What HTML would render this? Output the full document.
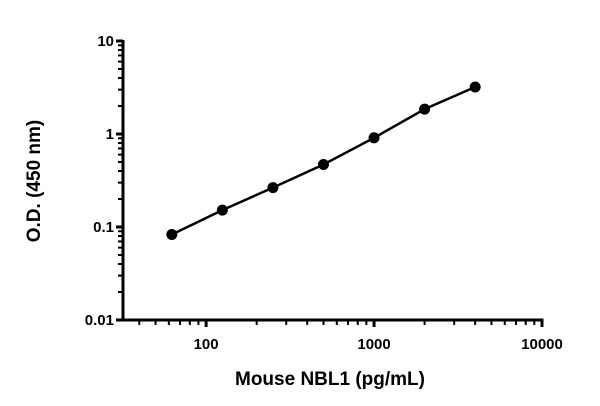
<!DOCTYPE html>
<html><head><meta charset="utf-8"><style>
body{margin:0;background:#fff;}
svg{display:block;font-family:"Liberation Sans",sans-serif;font-weight:bold;}
</style></head><body>
<svg width="600" height="406">
<g id="ax"></g><g id="marks"></g>
<text x="330" y="385" text-anchor="middle" font-size="19">Mouse NBL1 (pg/mL)</text>
<text transform="translate(40,181) rotate(-90)" text-anchor="middle" font-size="19">O.D. (450 nm)</text>
</svg>
<script>
const xValues=[62.5,125,250,500,1000,2000,4000];
const yValues=[0.083,0.152,0.265,0.47,0.91,1.85,3.2];
const xTicks=[100,1000,10000];
const xTickLabels=["100","1000","10000"];
const yTicks=[0.01,0.1,1,10];
const yTickLabels=["0.01","0.1","1","10"];
const NS="http://www.w3.org/2000/svg";
const X0=123,Y0=320,xMin=Math.log10(32),xMax=4,yMin=-2,yMax=1,pxL=542,pyT=41;
function xs(v){return X0+(Math.log10(v)-xMin)/(xMax-xMin)*(pxL-X0);}
function ys(v){return Y0-(Math.log10(v)-yMin)/(yMax-yMin)*(Y0-pyT);}
function mk(t,a,p){const e=document.createElementNS(NS,t);for(const k in a)e.setAttribute(k,a[k]);p.appendChild(e);return e;}
const ax=document.getElementById('ax'),mg=document.getElementById('marks');
let l=mk('line',{x1:X0,y1:Y0,x2:pxL+1.5,y2:Y0,stroke:'#000','stroke-width':3},ax);


l=mk('line',{x1:X0,y1:Y0+1.5,x2:X0,y2:pyT-1,stroke:'#000','stroke-width':3},ax);


for(let d=1;d<=4;d++)for(let m=1;m<10;m++){const v=m*Math.pow(10,d);if(v<32||v>10000)continue;const x=xs(v);
 mk('line',{x1:x,y1:Y0,x2:x,y2:Y0+(m==1?7:5),stroke:'#000','stroke-width':m==1?3:2},ax);}
for(let d=-2;d<=1;d++)for(let m=1;m<10;m++){const v=m*Math.pow(10,d);if(v>10.001)continue;const y=ys(v);
 mk('line',{x1:X0,y1:y,x2:X0-(m==1?7:5),y2:y,stroke:'#000','stroke-width':m==1?3:2},ax);}
xTicks.forEach((v,i)=>{const t=mk('text',{x:xs(v),y:Y0+29,'text-anchor':'middle','font-size':15},ax);t.textContent=xTickLabels[i];

});
yTicks.forEach((v,i)=>{const t=mk('text',{x:X0-9,y:ys(v)+5,'text-anchor':'end','font-size':15},ax);t.textContent=yTickLabels[i];

});
const pl=mk('polyline',{points:xValues.map((v,i)=>xs(v)+','+ys(yValues[i])).join(' '),fill:'none',stroke:'#000','stroke-width':2.5},mg);


xValues.forEach((v,i)=>{const c=mk('circle',{cx:xs(v),cy:ys(yValues[i]),r:5.5,fill:'#000'},mg);

});
</script>
</body></html>
